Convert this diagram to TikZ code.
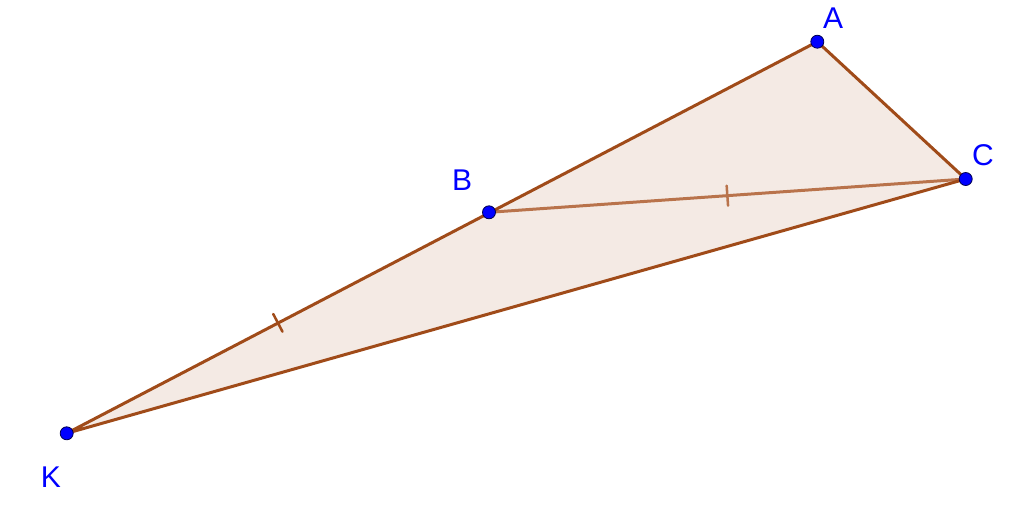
\documentclass[tikz,border=0pt]{standalone}
\usepackage{fontspec}
\setmainfont{Liberation Sans}
\usetikzlibrary{calc}
\definecolor{ptblue}{RGB}{0,0,255}
\definecolor{ptedge}{RGB}{0,0,80}
\definecolor{sidebrown}{RGB}{160,75,25}
\definecolor{innerbrown}{RGB}{185,115,75}
\definecolor{fillbrown}{RGB}{244,234,228}
\begin{document}
\begin{tikzpicture}[x=1pt,y=-1pt,
  pt/.style={circle,fill=ptblue,draw=ptedge,line width=0.8pt,inner sep=0pt,minimum size=13pt},
  lbl/.style={text=ptblue,font=\fontsize{30}{30}\selectfont,inner sep=0pt},
  side/.style={draw=sidebrown,line width=3pt,line cap=round},
  inner/.style={draw=innerbrown,line width=3pt,line cap=round},
  tick/.style={line width=2.5pt}]
\useasboundingbox (0,0) rectangle (1024,507);
\coordinate (A) at (817.3,41.7);
\coordinate (C) at (965.7,179);
\coordinate (B) at (489,212.3);
\coordinate (K) at (66.7,433.3);
\fill[fillbrown] (K) -- (A) -- (C) -- cycle;
\draw[inner] (B) -- (C) coordinate[pos=0.5] (mBC);
\draw[side] (K) -- (A) -- (C) -- (K);
\coordinate (mKB) at ($(K)!0.5!(B)$);
\draw[inner,tick] ($(mBC)!10pt!90:(C)$) -- ($(mBC)!10pt!-90:(C)$);
\draw[side,tick] ($(mKB)!10pt!90:(B)$) -- ($(mKB)!10pt!-90:(B)$);
\node[pt] (nA) at (A) {};
\node[pt] (nB) at (B) {};
\node[pt] (nC) at (C) {};
\node[pt] (nK) at (K) {};
\node[lbl] (lA) at (833,18) {A};
\node[lbl] (lB) at (462,180) {B};
\node[lbl] (lC) at (983,155) {C};
\node[lbl] (lK) at (51,477) {K};
\end{tikzpicture}
\end{document}
